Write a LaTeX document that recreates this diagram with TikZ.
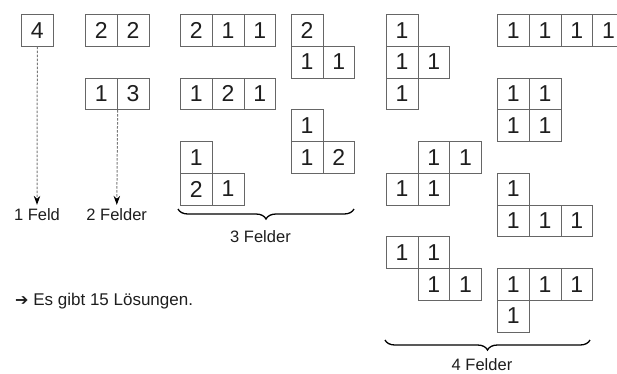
\documentclass[tikz,border=0pt]{standalone}
\usepackage{fontspec}
\setmainfont{Liberation Sans}
\newfontfamily\arrowfont{DejaVu Sans}
\usetikzlibrary{arrows.meta,decorations.pathreplacing}

\begin{document}
\begin{tikzpicture}[x=1pt,y=-1pt,
  cell/.style={draw=cellgray,line width=0.9pt,minimum size=31.75pt,inner sep=0pt,
    anchor=north west,text=digitblack,font=\fontsize{23}{23}\selectfont},
  felderlabel/.style={text=digitblack,inner sep=0pt,anchor=base,font=\fontsize{16.5}{18}\selectfont},
  dasharrow/.style={draw=arrowgray,line width=1pt,dash pattern=on 2.5pt off 1.5pt,
    shorten >=3pt,-{Stealth[length=9pt,width=6.5pt,black]}},
  bracket/.style={decorate,decoration={brace,mirror,amplitude=10pt},line width=1.3pt}]
\definecolor{cellgray}{HTML}{666666}
\definecolor{arrowgray}{HTML}{7A7A7A}
\definecolor{digitblack}{HTML}{1E1E1E}
\useasboundingbox (0,0) rectangle (617,373);

% 1 Feld
\node[cell] (f4) at (21,14) {4};
% 2 Felder
\node[cell] (f22a) at (85,14) {2};
\node[cell] (f22b) at (116.75,14) {2};
\node[cell] (f13a) at (85,77.5) {1};
\node[cell] (f13b) at (116.75,77.5) {3};
\node[felderlabel] (feld1) at (37,220) {1 Feld};
\node[felderlabel] (felder2) at (116.75,220) {2 Felder};
\draw[dasharrow] (f4.south) -- (feld1.north);
\draw[dasharrow] (f13a.south east) -- (felder2.north);

% 3 Felder
\node[cell] (f211a) at (180,14) {2};
\node[cell] (f211b) at (211.75,14) {1};
\node[cell] (f211c) at (243.5,14) {1};
\node[cell] (f2l1a) at (290.75,14) {2};
\node[cell] (f2l1b) at (290.75,45.75) {1};
\node[cell] (f2l1c) at (322.5,45.75) {1};
\node[cell] (f121a) at (180,77.5) {1};
\node[cell] (f121b) at (211.75,77.5) {2};
\node[cell] (f121c) at (243.5,77.5) {1};
\node[cell] (f1l2a) at (290.75,109.25) {1};
\node[cell] (f1l2b) at (290.75,141) {1};
\node[cell] (f1l2c) at (322.5,141) {2};
\node[cell] (f1l21a) at (180,141) {1};
\node[cell] (f1l21b) at (180,172.75) {2};
\node[cell] (f1l21c) at (211.75,172.75) {1};
\coordinate (b3l) at (178,209);
\coordinate (b3r) at (354,209);
\draw[bracket] (b3l) -- (b3r);
\node[felderlabel] (felder3) at (260.5,242) {3 Felder};

% 4 Felder
\node[cell] (ta) at (385.75,14) {1};
\node[cell] (tb) at (385.75,45.75) {1};
\node[cell] (tc) at (417.5,45.75) {1};
\node[cell] (td) at (385.75,77.5) {1};
\node[cell] (ia) at (497,14) {1};
\node[cell] (ib) at (528.75,14) {1};
\node[cell] (ic) at (560.5,14) {1};
\node[cell] (id) at (592.25,14) {1};
\node[cell] (oa) at (497,77.5) {1};
\node[cell] (ob) at (528.75,77.5) {1};
\node[cell] (oc) at (497,109.25) {1};
\node[cell] (od) at (528.75,109.25) {1};
\node[cell] (sa) at (417.5,141) {1};
\node[cell] (sb) at (449.25,141) {1};
\node[cell] (sc) at (385.75,172.75) {1};
\node[cell] (sd) at (417.5,172.75) {1};
\node[cell] (la) at (497,172.75) {1};
\node[cell] (lb) at (497,204.5) {1};
\node[cell] (lc) at (528.75,204.5) {1};
\node[cell] (ld) at (560.5,204.5) {1};
\node[cell] (za) at (385.75,236.25) {1};
\node[cell] (zb) at (417.5,236.25) {1};
\node[cell] (zc) at (417.5,268) {1};
\node[cell] (zd) at (449.25,268) {1};
\node[cell] (ja) at (497,268) {1};
\node[cell] (jb) at (528.75,268) {1};
\node[cell] (jc) at (560.5,268) {1};
\node[cell] (jd) at (497,299.75) {1};
\coordinate (b4l) at (385,340);
\coordinate (b4r) at (590,340);
\draw[bracket] (b4l) -- (b4r);
\node[felderlabel] (felder4) at (482,370) {4 Felder};

% Ergebnis
\node[felderlabel,anchor=base west,font=\fontsize{17}{18}\selectfont] (result) at (15,305.5)
  {{\arrowfont\fontsize{16}{16}\selectfont ➔} Es gibt 15 Lösungen.};
\end{tikzpicture}
\end{document}
